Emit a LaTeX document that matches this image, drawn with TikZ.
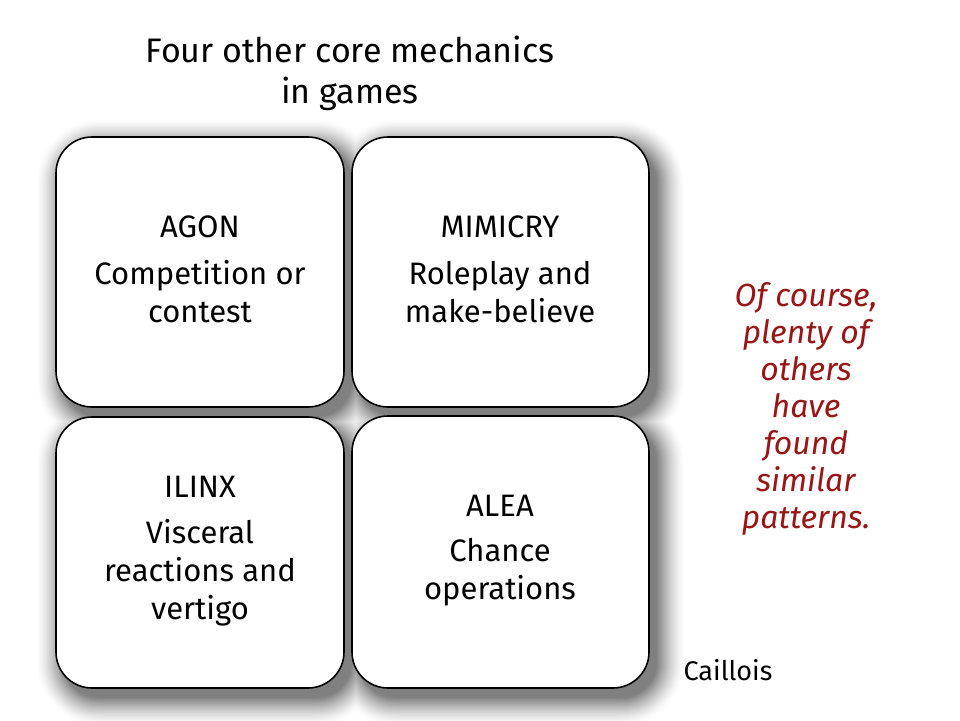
\documentclass[tikz,border=0pt]{standalone}
\usepackage{fontspec}
\setmainfont{Fira Sans}
\definecolor{noteRed}{HTML}{9A1515}
\tikzset{
  card/.style={draw=black, line width=1.6pt, fill=white, rounded corners=36pt},
  txt/.style={font=\fontsize{31}{38}\selectfont, align=center, inner sep=0pt},
  note/.style={txt, text=noteRed, font=\fontsize{32}{37}\selectfont\itshape},
}
\begin{document}
\begin{tikzpicture}[x=1pt,y=-1pt]
\useasboundingbox (0,0) rectangle (960,720);
\fill[white] (0,0) rectangle (960,720);
% soft shadows, drawn from the outer (light) rim to the inner (dark) core
\foreach \i in {0,...,24}{
  \pgfmathsetmacro\e{28*(1-\i/24)}
  \pgfmathsetmacro\k{50*(\i/24)^1.4}
  \foreach \xa/\ya/\xb/\yb in {56/137/344/407, 352/137/649/407, 56/417/344/688, 352/416/649/688}{
    \fill[black!\k, rounded corners=36pt+\e pt]
      (\xa+8-\e,\ya+10-\e) rectangle (\xb+8+\e,\yb+10+\e);
  }
}
\node[txt, font=\fontsize{34}{41}\selectfont] (title) at (350,73) {Four other core mechanics\\in games};
\path[card] (56,137) rectangle (344,407);
\path[card] (352,137) rectangle (649,407);
\path[card] (56,417) rectangle (344,688);
\path[card] (352,416) rectangle (649,688);
\node[txt] (agon) at (200,227) {AGON};
\node[txt] (agond) at (200,292) {Competition or\\contest};
\node[txt] (mim) at (500,227) {MIMICRY};
\node[txt] (mimd) at (500,292) {Roleplay and\\make-believe};
\node[txt] (ilinx) at (200,487) {ILINX};
\node[txt] (ilinxd) at (200,573) {Visceral\\reactions and\\vertigo};
\node[txt] (alea) at (500,506) {ALEA};
\node[txt] (alead) at (500,572) {Chance\\operations};
\node[note] (note) at (806,409) {Of course,\\plenty of\\others\\have\\found\\similar\\patterns.};
\node[txt, font=\fontsize{27}{30}\selectfont] (caillois) at (728,670) {Caillois};
\end{tikzpicture}
\end{document}
